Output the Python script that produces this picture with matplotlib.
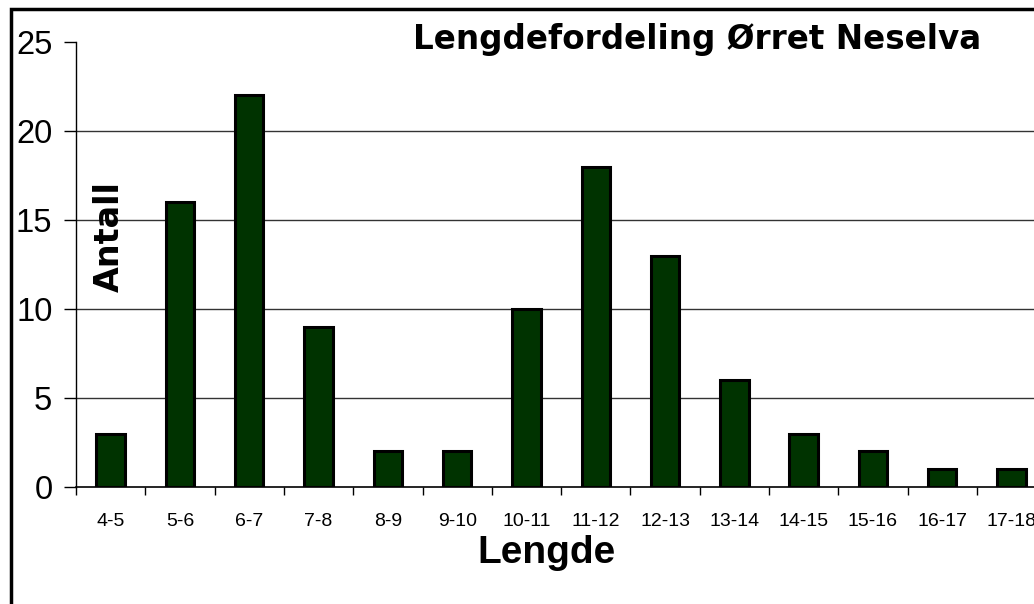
import numpy as np
import matplotlib.pyplot as plt
from matplotlib.patches import Rectangle

plt.rcParams['font.family'] = ['Liberation Sans', 'DejaVu Sans']

lengths = ["4-5", "5-6", "6-7", "7-8", "8-9", "9-10", "10-11", "11-12",
           "12-13", "13-14", "14-15", "15-16", "16-17", "17-18"]
counts = [3, 16, 22, 9, 2, 2, 10, 18, 13, 6, 3, 2, 1, 1]

W, H = 1034, 604
fig = plt.figure(figsize=(W / 100, H / 100), dpi=100)

# axes placed in pixels, runs past the right edge like the original
left, bottom, top = 76, 487, 42
step = 69.3
ax = fig.add_axes([left / W, (H - bottom) / H, 14 * step / W, (bottom - top) / H])

x = np.arange(len(lengths))
ax.bar(x, counts, width=0.41, color="#003300", edgecolor="black", linewidth=2.2, zorder=3)

ax.set_xlim(-0.5, len(lengths) - 0.5)
ax.set_ylim(0, 25)
ax.set_yticks([0, 5, 10, 15, 20, 25])
ax.set_xticks(x)
ax.set_xticklabels(lengths, fontsize=14)
ax.set_xticks(np.arange(-0.5, len(lengths)), minor=True)
ax.tick_params(axis="x", which="major", length=0, pad=19)
ax.tick_params(axis="x", which="minor", length=6, width=1, direction="out")
ax.tick_params(axis="y", length=9, width=1, direction="out", pad=8, labelsize=23.5)

for v in [5, 10, 15, 20]:
    ax.axhline(v, color="#333333", linewidth=1, zorder=1)

ax.spines["top"].set_visible(False)
ax.spines["right"].set_visible(False)
ax.spines["left"].set_linewidth(1)
ax.spines["bottom"].set_linewidth(1.2)

fig.text(697 / W, 1 - 49 / H, "Lengdefordeling Ørret Neselva", fontsize=23.5,
         fontweight="bold", family="DejaVu Sans", ha="center", va="baseline")
fig.text(109 / W, 1 - 237 / H, "Antall", fontsize=24, fontweight="bold",
         family="DejaVu Sans", rotation=90, ha="center", va="center")
fig.text(547 / W, 1 - 563 / H, "Lengde", fontsize=28, fontweight="bold",
         ha="center", va="baseline")

# frame around the chart area
fig.patches.append(Rectangle((10.5 / W, -0.1), 1.2, 1.1 - 9 / H, transform=fig.transFigure,
                             fill=False, edgecolor="black", linewidth=2.5))

fig.savefig("out.png", dpi=100)
